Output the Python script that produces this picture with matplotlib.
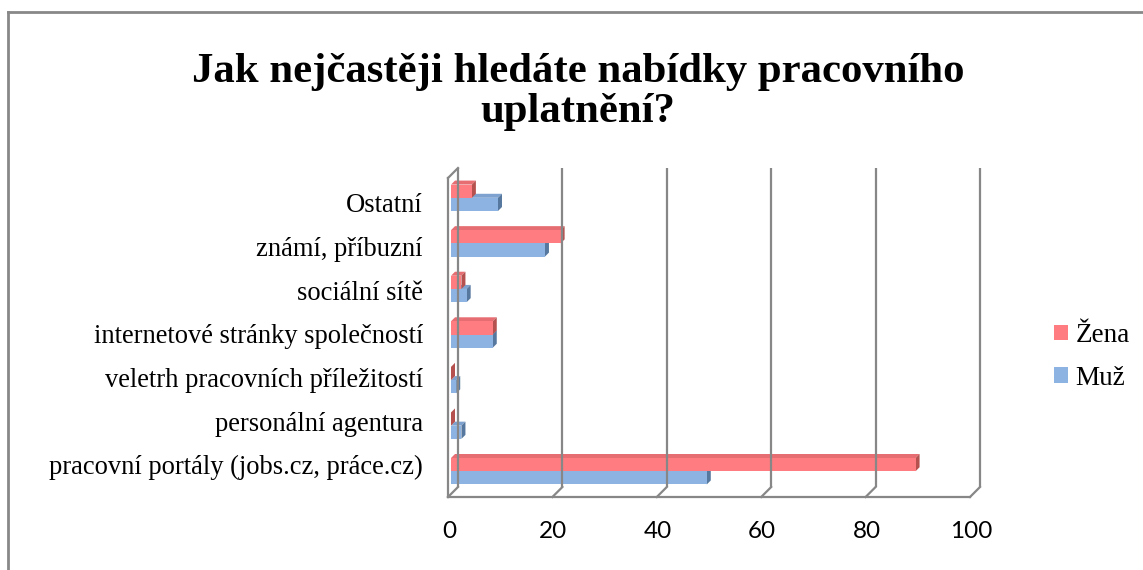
import numpy as np
import matplotlib
matplotlib.use('Agg')
import matplotlib.pyplot as plt
from matplotlib.patches import Polygon, Patch
from matplotlib.lines import Line2D

# Data
kategorie = ['pracovní portály (jobs.cz, práce.cz)', 'personální agentura',
             'veletrh pracovních příležitostí', 'internetové stránky společností',
             'sociální sítě', 'známí, příbuzní', 'Ostatní']
zena = [89, 0, 0, 8, 2, 21, 4]
muz = [49, 2, 1, 8, 3, 18, 9]
x_ticks = [0, 20, 40, 60, 80, 100]

titulek = 'Jak nejčastěji hledáte nabídky pracovního\nuplatnění?'

barvy_zena = ('#FF7C80', '#E66E72', '#B5524F')   # front, top, side
barvy_muz = ('#8DB3E2', '#7EA2CF', '#56789F')

W, H, DPI = 1143, 570, 100
fig = plt.figure(figsize=(W / DPI, H / DPI), dpi=DPI)
ax = fig.add_axes([448 / W, (H - 497) / H, 522 / W, 319 / H])
ax.set_xlim(0, 100)
ax.set_ylim(-0.5, 6.5)
ax.axis('off')

# pixel -> data units for the 3D depth
px_x = 100 / 522.0
px_y = 7 / 319.0
wall = 10  # wall depth in px


def off(x, y, d):
    # move a point d pixels "into" the chart (right and up)
    return (x + d * px_x, y + d * px_y)


grid_c = '#878787'
lw = 1.6
top = 6.5
bot = -0.5
# back wall gridlines
for t in x_ticks:
    p0 = off(t, bot, wall)
    p1 = off(t, top, wall)
    ax.plot([p0[0], p1[0]], [p0[1], p1[1]], color=grid_c, lw=lw, solid_capstyle='butt', clip_on=False)
    f = off(t, bot, 0)
    ax.plot([f[0], p0[0]], [f[1], p0[1]], color=grid_c, lw=lw, clip_on=False)
# floor front edge, left wall
ax.plot([0, 100], [bot, bot], color=grid_c, lw=lw, clip_on=False)
ax.plot([0, 0], [bot, top], color=grid_c, lw=lw, clip_on=False)
b = off(0, top, wall)
ax.plot([0, b[0]], [top, b[1]], color=grid_c, lw=lw, clip_on=False)

# 3D bars
tl = 0.29
d0, d1 = 3, 7


def bar3d(val, y0, y1, cols):
    fr, tp, sd = cols
    a = off(0, y0, d0)
    c = off(val, y1, d0)
    front = [a, off(val, y0, d0), c, off(0, y1, d0)]
    topf = [off(0, y1, d0), c, off(val, y1, d1), off(0, y1, d1)]
    side = [off(val, y0, d0), c, off(val, y1, d1), off(val, y0, d1)]
    ax.add_patch(Polygon(topf, closed=True, facecolor=tp, edgecolor='none', clip_on=False))
    ax.add_patch(Polygon(side, closed=True, facecolor=sd, edgecolor='none', clip_on=False))
    if val > 0:
        ax.add_patch(Polygon(front, closed=True, facecolor=fr, edgecolor='none', clip_on=False))


for i in range(len(kategorie)):
    bar3d(muz[i], i - tl, i, barvy_muz)
for i in range(len(kategorie)):
    bar3d(zena[i], i, i + tl, barvy_zena)

# category labels (excel packs them a bit tighter than the bars)
n = len(kategorie)
for i, k in enumerate(kategorie):
    ax.annotate(k, xy=(0, i), xycoords='data', xytext=(-25, -5 + 1.92 * (n - 1 - i)),
                textcoords='offset pixels', ha='right', va='center', fontsize=19.1,
                family='Liberation Serif')
# value labels along the floor
for t in x_ticks:
    ax.annotate(str(t), xy=(t, bot), xycoords='data', xytext=(1, -34), textcoords='offset pixels',
                ha='center', va='center', fontsize=17.5, family='Lato')

# legend
handles = [Patch(facecolor=barvy_zena[0]), Patch(facecolor=barvy_muz[0])]
fig.legend(handles, ['Žena', 'Muž'], loc='center left', bbox_to_anchor=(1054 / W, 1 - 357 / H),
           frameon=False, prop={'family': 'Liberation Serif', 'size': 19.5},
           handlelength=0.5, handleheight=0.5, handletextpad=0.3, labelspacing=0.65,
           borderpad=0, borderaxespad=0)

fig.text(578 / W, 1 - 92 / H, titulek, ha='center', va='center', fontsize=30.8,
         fontweight='bold', family='Liberation Serif', linespacing=1.05)

# chart border
fig.add_artist(Line2D([8 / W, 1], [1 - 12 / H, 1 - 12 / H], color='#888888', lw=2))
fig.add_artist(Line2D([8 / W, 8 / W], [0, 1 - 12 / H], color='#888888', lw=2))

fig.savefig('out.png', dpi=DPI, facecolor='white')
